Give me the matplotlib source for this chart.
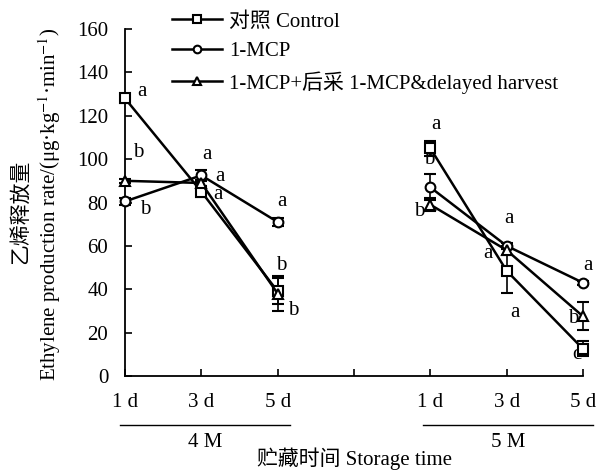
import matplotlib
matplotlib.use("Agg")
import matplotlib.pyplot as plt
import numpy as np

plt.rcParams['font.family'] = ['Liberation Serif', 'Noto Sans CJK SC']
plt.rcParams['mathtext.fontset'] = 'stix'
plt.rcParams['font.size'] = 15

# ---- data ----
positions = [0, 1, 2, 4, 5, 6]
tick_positions = [0, 1, 2, 3, 4, 5, 6]
tick_labels = ["1 d", "3 d", "5 d", "", "1 d", "3 d", "5 d"]
group_labels = ["4 M", "5 M"]

control = [128, 85, 39, 105, 48.5, 12.5]
control_err = [2, 2.5, 6, 3.5, 10, 3.5]
mcp = [80.5, 92.5, 71, 87, 60, 43]
mcp_err = [1.5, 2.5, 2, 6, 1.5, 1]
mcp_delay = [90, 89, 38, 79, 58, 27.5]
mcp_delay_err = [1, 1.5, 8, 3, 2, 6.5]

series_names = ["对照 Control", "1-MCP", "1-MCP+后采 1-MCP&delayed harvest"]
markers = ["s", "o", "^"]

# significance letters: (x, y, letter)
letters_x = [0.22, 0.17, 0.26, 1.07, 1.24, 1.22, 2.05, 2.04, 2.2,
             4.07, 3.98, 3.86, 5.03, 4.76, 5.11, 6.07, 5.87, 5.92]
letters_y = [131, 103, 77, 102, 92, 83.5, 80.4, 51, 30.4,
             116, 99.6, 76, 72.8, 56.6, 29.5, 50.9, 26.7, 9.7]
letters = ["a", "b", "b", "a", "a", "a", "a", "b", "b",
           "a", "b", "b", "a", "a", "a", "a", "b", "c"]

fig = plt.figure(figsize=(6.04, 4.71), dpi=100)
ax = fig.add_axes([125/604, 1-376/471, 458/604, 347/471])

all_vals = [control, mcp, mcp_delay]
all_errs = [control_err, mcp_err, mcp_delay_err]
handles = []
for vals, errs, mk, name in zip(all_vals, all_errs, markers, series_names):
    for seg in (slice(0, 3), slice(3, 6)):
        ax.errorbar(positions[seg], vals[seg], yerr=errs[seg], color='black',
                    lw=1.8, marker=mk, markersize=7, markerfacecolor='white',
                    markeredgecolor='black', markeredgewidth=1.5,
                    capsize=4.5, elinewidth=1.2, capthick=1.2, clip_on=False,
                    zorder=3)
    h, = ax.plot([], [], color='black', lw=1.8, marker=mk, markersize=5.5,
                 markerfacecolor='white', markeredgecolor='black',
                 markeredgewidth=1.5, label=name)
    handles.append(h)

for x, y, t in zip(letters_x, letters_y, letters):
    ax.text(x, y, t, ha='center', va='center', fontsize=15)

ax.set_xlim(0, 6)
ax.set_ylim(0, 160)
ax.set_yticks(np.arange(0, 161, 20))
ax.set_xticks(tick_positions)
ax.set_xticklabels(tick_labels)
ax.spines['top'].set_visible(False)
ax.spines['right'].set_visible(False)
ax.spines['left'].set_linewidth(1.3)
ax.spines['bottom'].set_linewidth(1.3)
ax.tick_params(direction='in', length=5, width=1.2, pad=12)

# group brackets
for (x0, x1), lab in zip([(-0.07, 2.16), (3.9, 6.13)], group_labels):
    ax.plot([x0, x1], [-22.6, -22.6], color='black', lw=1.0, clip_on=False)
    ax.text((x0 + x1) / 2, -30.6, lab, ha='center', va='center', fontsize=15,
            clip_on=False)
ax.text(3.01, -38.0, "贮藏时间 Storage time", ha='center', va='center',
        fontsize=15, clip_on=False)

# y labels
fig.text(21/604, 1-212/471, "乙烯释放量", rotation=90, ha='center', va='center',
         fontsize=15)
fig.text(50/604, 1-204/471,
         r"Ethylene production rate/(μg·kg$^{-1}$·min$^{-1}$)",
         rotation=90, ha='center', va='center', fontsize=15)

fig.legend(handles=handles, loc='upper left', bbox_to_anchor=(172/604, 1-12/471),
           frameon=False, borderpad=0, borderaxespad=0, handlelength=2.4,
           handletextpad=0.35, labelspacing=0.48, fontsize=15)

fig.savefig("out.png", dpi=100)
